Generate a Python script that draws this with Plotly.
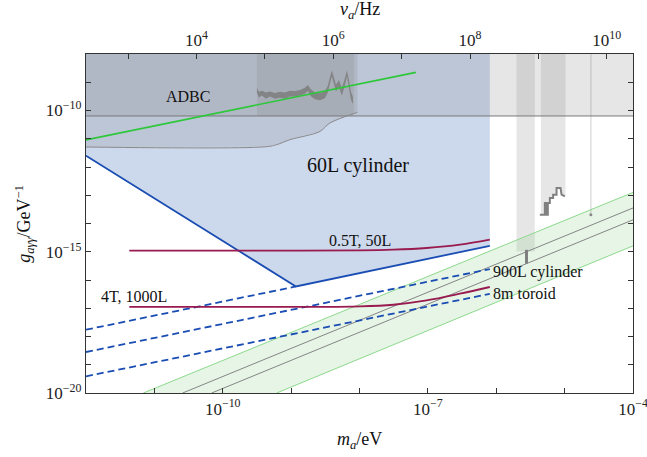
import numpy as np
import plotly.graph_objects as go

HZ_PER_EV = 2.418e14
X_MIN, X_MAX = 1e-12, 1e-4
Y_MIN, Y_MAX = 1e-20, 1e-8

# 60L cylinder reach (solid blue boundary)
cyl60_m = [1e-12, 1.175e-9, 8.05e-7]
cyl60_g = [2.51e-12, 5.89e-17, 1.62e-15]

# dashed projections
dashA_m = [1e-12, 1.175e-9]
dashA_g = [1.74e-18, 5.89e-17]
dash900_m = [1e-12, 8.05e-7]
dash900_g = [2.82e-19, 2.45e-16]
dash8m_m = [1e-12, 8.05e-7]
dash8m_g = [3.89e-20, 3.24e-17]

# red magnet curves
red_m = [4.30e-12, 1.35e-9, 1.01e-8, 3.11e-8, 9.57e-8, 2.94e-7, 8.05e-7]
red05_g = [1.09e-15, 1.09e-15, 1.11e-15, 1.18e-15, 1.36e-15, 1.78e-15, 2.67e-15]
red4_g = [1.11e-17, 1.11e-17, 1.16e-17, 1.33e-17, 1.90e-17, 3.27e-17, 5.65e-17]

# green astrophysical line
green_m = [1e-12, 6.68e-8]
green_g = [9.12e-12, 2.24e-9]

# CAST limit
cast_g = 6.4e-11

# ADBC lower boundary
adbc_m = [1e-12, 4.39e-10, 6.14e-10, 9.59e-10, 2.64e-9, 3.69e-9, 9.31e-9]
adbc_g = [5.1e-12, 5.24e-12, 6.17e-12, 9.25e-12, 1.82e-11, 3.61e-11, 8.57e-11]

# darker strip (top, left part)
strip_dark_m = [3.16e-10, 8.28e-9]

# noisy exclusion curve in dark strip (upper and lower edges of the band)
noisy_m = [3.16e-10, 3.38e-10, 3.74e-10, 4.29e-10, 4.90e-10, 5.79e-10, 6.85e-10,
           8.11e-10, 9.59e-10, 1.14e-9, 1.35e-9, 1.59e-9, 1.76e-9, 1.94e-9,
           2.23e-9, 2.64e-9, 3.12e-9, 3.45e-9, 3.69e-9, 3.94e-9, 4.23e-9,
           4.52e-9, 5.00e-9, 5.53e-9, 6.12e-9, 6.55e-9, 7.00e-9, 7.48e-9, 8.02e-9]
noisy_hi = [6.2e-10, 4.6e-10, 5.0e-10, 4.3e-10, 4.7e-10, 4.2e-10, 4.6e-10,
            4.3e-10, 5.0e-10, 4.9e-10, 5.3e-10, 6.4e-10, 8.0e-10, 5.6e-10,
            4.3e-10, 4.1e-10, 4.8e-10, 7.6e-10, 1.5e-9, 2.6e-9, 1.5e-9,
            8.2e-10, 1.2e-9, 6.2e-10, 1.4e-9, 2.6e-9, 1.2e-9, 4.6e-10, 3.0e-10]
noisy_lo = [4.3e-10, 2.9e-10, 3.4e-10, 2.6e-10, 3.1e-10, 2.6e-10, 2.8e-10,
            2.6e-10, 3.1e-10, 3.1e-10, 3.4e-10, 3.9e-10, 4.9e-10, 3.2e-10,
            2.5e-10, 2.3e-10, 2.7e-10, 4.4e-10, 9.0e-10, 1.6e-9, 8.5e-10,
            4.8e-10, 6.6e-10, 3.4e-10, 7.6e-10, 1.6e-9, 6.4e-10, 2.4e-10, 1.7e-10]

# right-hand haloscope strips
strip1_m = [1.98e-6, 3.66e-6]
strip1_g_low = 1.02e-15
strip2_fill_m = [4.49e-6, 4.49e-6, 5.14e-6, 5.14e-6, 6.08e-6, 6.08e-6, 6.79e-6, 6.79e-6,
                 7.62e-6, 7.62e-6, 8.71e-6, 9.02e-6, 1.03e-5, 1.03e-5]
strip2_fill_g = [1e-8, 2.05e-14, 2.05e-14, 5.32e-14, 5.32e-14, 8.0e-14, 8.0e-14, 1.045e-13,
                 1.045e-13, 1.81e-13, 1.81e-13, 1.045e-13, 9.1e-14, 1e-8]
hay_m = [4.34e-6, 5.14e-6, 5.14e-6, 5.43e-6, 5.43e-6, 5.68e-6, 5.68e-6, 6.08e-6, 6.08e-6,
         6.79e-6, 6.79e-6, 7.62e-6, 7.62e-6, 8.71e-6, 9.02e-6, 1.007e-5]
hay_g = [2.05e-14, 2.05e-14, 5.32e-14, 5.32e-14, 2.05e-14, 2.05e-14, 5.32e-14, 5.32e-14,
         8.0e-14, 8.0e-14, 1.045e-13, 1.045e-13, 1.81e-13, 1.81e-13, 1.045e-13, 9.1e-14]
mark_m = 2.77e-6
mark_g = [1.17e-15, 3.8e-16]
thin_m = 2.42e-5
thin_g_low = 2.05e-14

# QCD axion band
band_up_m = [6.89e-12, 1e-4]
band_up_g = [1e-20, 1.26e-13]
band_lo_m = [1e-4, 6.14e-10]
band_lo_g = [1.62e-15, 1e-20]
ksvz_m = [2.59e-11, 1e-4]
ksvz_g = [1e-20, 3.55e-14]
dfsz_m = [6.89e-11, 1e-4]
dfsz_g = [1e-20, 1.35e-14]

# tick labels (exponents)
x_minor = list(range(-12, -3))
x_lab = [-10, -7, -4]
y_minor = list(range(-20, -7))
y_lab = [-20, -15, -10]
nu_minor = list(range(3, 11))
nu_lab = [4, 6, 8, 10]

FONT = "Liberation Serif, Times New Roman, Times, serif"
BLUE = "#1a4db3"
RED = "#991a4f"
GRAYFILL = "rgba(128,128,128,0.2)"

fig = go.Figure()

def poly(xs, ys, color):
    fig.add_trace(go.Scatter(x=xs, y=ys, fill="toself", fillcolor=color, mode="none",
                             hoverinfo="skip", showlegend=False))

def line(xs, ys, color, width, dash=None, shape="linear"):
    fig.add_trace(go.Scatter(x=xs, y=ys, mode="lines", hoverinfo="skip", showlegend=False,
                             line=dict(color=color, width=width, dash=dash, shape=shape)))

# 60L cylinder region
poly(cyl60_m + [cyl60_m[-1], X_MIN], cyl60_g + [Y_MAX, Y_MAX], "#ccd8eb")
# ADBC region
poly(adbc_m + [adbc_m[-1], X_MIN], adbc_g + [Y_MAX, Y_MAX], GRAYFILL)
# CAST region
poly([X_MIN, X_MAX, X_MAX, X_MIN], [cast_g, cast_g, Y_MAX, Y_MAX], GRAYFILL)
# dark strip
poly([strip_dark_m[0], strip_dark_m[1], strip_dark_m[1], strip_dark_m[0]],
     [cast_g, cast_g, Y_MAX, Y_MAX], GRAYFILL)
# right strips
poly([strip1_m[0], strip1_m[1], strip1_m[1], strip1_m[0]],
     [strip1_g_low, strip1_g_low, Y_MAX, Y_MAX], GRAYFILL)
poly(strip2_fill_m, strip2_fill_g, GRAYFILL)
# QCD band
poly(band_up_m + band_lo_m, band_up_g + band_lo_g, "rgba(140,210,140,0.22)")
line(band_up_m, band_up_g, "#8cd98c", 1)
line(band_lo_m, band_lo_g, "#8cd98c", 1)
line(ksvz_m, ksvz_g, "#858585", 1)
line(dfsz_m, dfsz_g, "#858585", 1)

# thin vertical line + dot
line([thin_m, thin_m], [Y_MAX, thin_g_low], "rgba(128,128,128,0.25)", 1.5)
fig.add_trace(go.Scatter(x=[thin_m], y=[thin_g_low], mode="markers", hoverinfo="skip",
                         showlegend=False, marker=dict(color="#888", size=3)))
# mark in strip 1
line([mark_m, mark_m], mark_g, "#808080", 3)

# boundary lines
line([X_MIN, X_MAX], [cast_g, cast_g], "#7a7a7a", 1)
line(adbc_m, adbc_g, "#8a8a8a", 1, shape="spline")
poly(noisy_m + noisy_m[::-1], noisy_hi + noisy_lo[::-1], "rgba(128,128,128,0.9)")
line(hay_m, hay_g, "#808080", 2)

line(green_m, green_g, "#2dc73a", 1.6)
line(cyl60_m, cyl60_g, BLUE, 1.8)
line(dashA_m, dashA_g, BLUE, 1.8, dash="7px,4px")
line(dash900_m, dash900_g, BLUE, 1.8, dash="7px,4px")
line(dash8m_m, dash8m_g, BLUE, 1.8, dash="7px,4px")
line(red_m, red05_g, RED, 1.8, shape="spline")
line(red_m, red4_g, RED, 1.8, shape="spline")

# invisible trace for top axis
fig.add_trace(go.Scatter(x=[1e3], y=[1e-30], xaxis="x2", mode="markers",
                         marker=dict(opacity=0), hoverinfo="skip", showlegend=False))

def sup(e):
    return "10<sup>" + ("\u2212" + str(-e) if e < 0 else str(e)) + "</sup>"

axis_common = dict(type="log", showgrid=False, zeroline=False, showline=True,
                   linecolor="#333", linewidth=1.3, ticks="inside", ticklen=5,
                   tickcolor="#333", tickwidth=1.2, automargin=False,
                   tickfont=dict(family=FONT, size=17, color="#222"))

def minor(exps):
    return dict(tickmode="array", tickvals=[10.0 ** e for e in exps], ticks="inside",
                ticklen=5, tickcolor="#333", tickwidth=1.2, showgrid=False)

fig.update_layout(
    width=647, height=457,
    margin=dict(l=86, r=14, t=54, b=64),
    paper_bgcolor="white", plot_bgcolor="white",
    xaxis=dict(**axis_common, range=[-12, -4],
               tickvals=[10.0 ** e for e in x_lab],
               ticktext=[sup(e) for e in x_lab],
               minor=minor(x_minor),
               ticklabeloverflow="allow"),
    xaxis2=dict(**axis_common, overlaying="x", side="top",
                range=[np.log10(X_MIN * HZ_PER_EV), np.log10(X_MAX * HZ_PER_EV)],
                tickvals=[10.0 ** e for e in nu_lab],
                ticktext=[sup(e) for e in nu_lab],
                minor=minor(nu_minor)),
    yaxis=dict(**axis_common, range=[-20, -8], mirror="ticks",
               tickvals=[10.0 ** e for e in y_lab],
               ticktext=[sup(e) for e in y_lab],
               minor=minor(y_minor)),
)

def label(text, lm, lg, size=16, xanchor="center"):
    fig.add_annotation(x=lm, y=lg, xref="x", yref="y", text=text, showarrow=False,
                       xanchor=xanchor, yanchor="middle",
                       font=dict(family=FONT, size=size, color="#111"))

label("ADBC", -10.504, -9.51)
label("60L cylinder", -8.016, -11.94, size=20)
label("0.5T, 50L", -7.994, -14.59)
label("4T, 1000L", -11.304, -16.59)
label("900L cylinder", -6.08, -15.70, xanchor="left")
label("8m toroid", -6.07, -16.46, xanchor="left")

def title(text, x, y, angle=0):
    fig.add_annotation(x=x, y=y, xref="paper", yref="paper", text=text, showarrow=False,
                       xanchor="center", yanchor="middle", textangle=angle,
                       font=dict(family=FONT, size=18, color="#111"))

title("<i>m</i><sub><i>a</i></sub>/eV", 0.5, -0.141)
title("<i>\u03bd</i><sub><i>a</i></sub>/Hz", 0.5, 1.128)
title("<i>g</i><sub><i>a\u03b3\u03b3</i></sub>/GeV<sup>\u22121</sup>", -0.113, 0.5, angle=-90)

fig.write_html("out.html")
